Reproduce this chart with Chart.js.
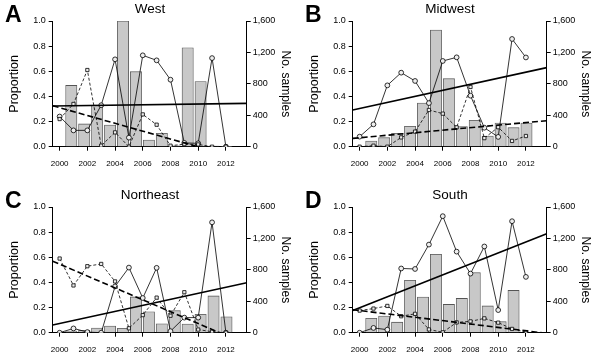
<!DOCTYPE html>
<html>
<head>
<meta charset="utf-8">
<script src="https://cdn.jsdelivr.net/npm/chart.js@4.4.1/dist/chart.umd.min.js"></script>
<style>
  body { margin: 0; background: #fff; width: 600px; height: 359px; overflow: hidden; position: relative; font-family: "Liberation Sans", Arial, sans-serif; }
  .panel { position: absolute; width: 300px; height: 173px; }
  .letter { position: absolute; font-weight: bold; font-size: 23px; line-height: 1; color: #000; }
</style>
</head>
<body>
<div class="panel" style="left:0;top:0"><canvas id="west" width="300" height="173"></canvas></div>
<div class="panel" style="left:300px;top:0"><canvas id="midwest" width="300" height="173"></canvas></div>
<div class="panel" style="left:0;top:186px"><canvas id="northeast" width="300" height="173"></canvas></div>
<div class="panel" style="left:300px;top:186px"><canvas id="south" width="300" height="173"></canvas></div>
<div class="letter" style="left:5px;top:3px">A</div>
<div class="letter" style="left:305px;top:3px">B</div>
<div class="letter" style="left:5px;top:189px">C</div>
<div class="letter" style="left:305px;top:189px">D</div>
<script>
// years and axis ticks
const years = [2000, 2001, 2002, 2003, 2004, 2005, 2006, 2007, 2008, 2009, 2010, 2011, 2012];
const yearTicks = [2000, 2002, 2004, 2006, 2008, 2010, 2012];
const trendYears = [1999.5, 2013.5];

// West
const westSamples = [780, 290, 525, 275, 1600, 955, 85, 170, 10, 1260, 830, 8, 3];
const westCircle = [0.24, 0.13, 0.13, 0.33, 0.695, 0.072, 0.727, 0.687, 0.533, 0.03, 0.027, 0.705, 0.0];
const westSquare = [0.22, 0.34, 0.61, 0.008, 0.114, 0.0, 0.257, 0.175, 0.008, 0.02, 0.018, 0.0, 0.0];
const westTrendSolid = [0.324, 0.345];
const westTrendDash = [0.326, -0.11];

// Midwest
const midwestSamples = [72, 115, 170, 259, 556, 1485, 866, 255, 335, 136, 301, 242, 301];
const midwestCircle = [0.08, 0.178, 0.488, 0.589, 0.523, 0.347, 0.682, 0.711, 0.406, 0.151, 0.078, 0.857, 0.71];
const midwestSquare = [0.0, 0.008, 0.0, 0.074, 0.12, 0.292, 0.263, 0.154, 0.475, 0.068, 0.155, 0.046, 0.085];
const midwestTrendSolid = [0.292, 0.629];
const midwestTrendDash = [0.066, 0.207];

// Northeast
const northeastSamples = [20, 30, 60, 85, 55, 455, 267, 112, 280, 110, 234, 468, 203];
const northeastCircle = [0.0, 0.034, 0.005, 0.0, 0.368, 0.518, 0.276, 0.516, 0.012, 0.12, 0.12, 0.878, 0.0];
const northeastSquare = [0.59, 0.376, 0.529, 0.547, 0.408, 0.035, 0.14, 0.279, 0.135, 0.322, 0.025, 0.008, 0.0];
const northeastTrendSolid = [0.061, 0.397];
const northeastTrendDash = [0.569, -0.093];

// South
const southSamples = [182, 212, 134, 667, 453, 999, 360, 436, 764, 341, 140, 538, 0];
const southCircle = [0.0, 0.038, 0.024, 0.511, 0.507, 0.701, 0.927, 0.645, 0.47, 0.686, 0.18, 0.887, 0.444];
const southSquare = [0.176, 0.192, 0.213, 0.131, 0.15, 0.026, 0.003, 0.082, 0.09, 0.114, 0.08, 0.03, 0.005];
const southTrendSolid = [0.177, 0.788];
const southTrendDash = [0.183, -0.005];

Chart.defaults.font.family = '"Liberation Sans", Arial, sans-serif';
Chart.defaults.color = '#000';

function pts(xs, ys) {
  return xs.map((x, i) => ({ x: x, y: ys[i] }));
}

function makePanel(id, title, samples, circle, square, trendSolid, trendDash) {
  new Chart(document.getElementById(id), {
    type: 'line',
    data: {
      datasets: [
        {
          type: 'line', data: pts(trendYears, trendSolid),
          borderColor: '#000', borderWidth: 1.6, pointRadius: 0, order: 1
        },
        {
          type: 'line', data: pts(trendYears, trendDash),
          borderColor: '#000', borderWidth: 1.6, borderDash: [6, 3], pointRadius: 0, order: 1
        },
        {
          type: 'line', data: pts(years, square),
          borderColor: '#000', borderWidth: 0.8, borderDash: [3, 2],
          pointStyle: 'rect', pointRadius: 2.3, pointBorderWidth: 0.8,
          pointBackgroundColor: '#eee', pointBorderColor: '#000', order: 2
        },
        {
          type: 'line', data: pts(years, circle),
          borderColor: '#000', borderWidth: 0.8,
          pointStyle: 'circle', pointRadius: 2.4, pointBorderWidth: 0.8,
          pointBackgroundColor: '#eee', pointBorderColor: '#000', order: 2
        },
        {
          type: 'bar', xAxisID: 'xb', yAxisID: 'yr',
          data: samples.map((v, i) => ({ x: i, y: v })),
          backgroundColor: '#c8c8c8', borderColor: '#555', borderWidth: 0.8,
          barThickness: 11.3, order: 5
        }
      ]
    },
    options: {
      responsive: false,
      animation: false,
      layout: { padding: 0 },
      plugins: {
        legend: { display: false },
        tooltip: { enabled: false },
        title: {
          display: true, text: title, color: '#000',
          font: { size: 13.5, weight: 'normal' },
          padding: { top: 1, bottom: 3.8 }
        }
      },
      scales: {
        x: {
          type: 'linear', min: 1999.5, max: 2013.5, offset: false,
          afterBuildTicks: s => { s.ticks = yearTicks.map(v => ({ value: v })); },
          afterFit: s => { s.height = 26.3; },
          ticks: { font: { size: 8 }, color: '#000', padding: 8, maxRotation: 0, autoSkip: false, callback: v => String(v) },
          grid: { drawOnChartArea: false, tickLength: 4, color: '#000' },
          border: { color: '#000', width: 1 }
        },
        xb: { type: 'linear', display: false, min: -1, max: 14, offset: false },
        y: {
          position: 'left', min: 0, max: 1,
          afterFit: s => { s.width = 52.7; },
          ticks: { stepSize: 0.2, font: { size: 9 }, color: '#000', padding: 3, callback: v => v.toFixed(1) },
          grid: { drawOnChartArea: false, tickLength: 4, color: '#000' },
          border: { color: '#000', width: 1 },
          title: { display: true, text: 'Proportion', color: '#000', font: { size: 12.5 }, padding: { top: 7, bottom: 0 } }
        },
        yr: {
          position: 'right', min: 0, max: 1600,
          afterFit: s => { s.width = 53.3; },
          ticks: { stepSize: 400, font: { size: 9 }, color: '#000', padding: 2, callback: v => v.toLocaleString('en-US') },
          grid: { drawOnChartArea: false, tickLength: 4, color: '#000' },
          border: { color: '#000', width: 1 },
          title: { display: true, text: 'No. samples', color: '#000', font: { size: 12 }, padding: { top: 7.5, bottom: 0 } }
        }
      }
    }
  });
}

makePanel('west', 'West', westSamples, westCircle, westSquare, westTrendSolid, westTrendDash);
makePanel('midwest', 'Midwest', midwestSamples, midwestCircle, midwestSquare, midwestTrendSolid, midwestTrendDash);
makePanel('northeast', 'Northeast', northeastSamples, northeastCircle, northeastSquare, northeastTrendSolid, northeastTrendDash);
makePanel('south', 'South', southSamples, southCircle, southSquare, southTrendSolid, southTrendDash);
</script>
</body>
</html>
